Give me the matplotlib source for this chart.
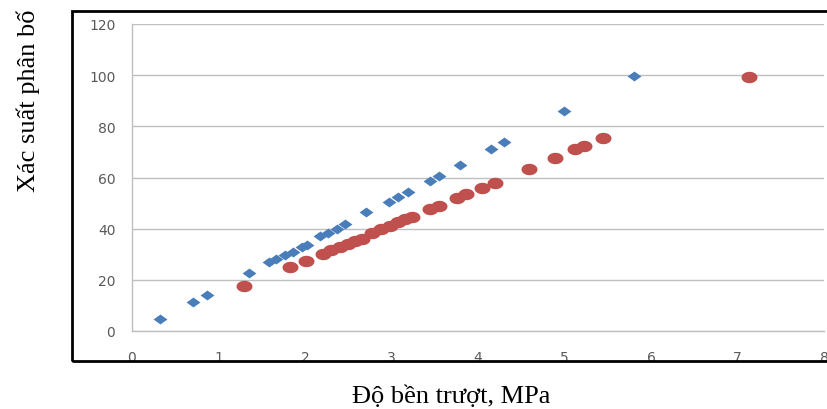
import matplotlib
matplotlib.use("Agg")
from matplotlib import pyplot as plt, patches
from matplotlib.path import Path
import numpy as np

# Data
blue_x = [0.32, 0.70, 0.87, 1.35, 1.58, 1.67, 1.77, 1.86, 1.96, 2.02, 2.17, 2.27,
          2.37, 2.46, 2.71, 2.97, 3.07, 3.19, 3.45, 3.55, 3.79, 4.15, 4.30, 4.99, 5.80]
blue_y = [4.7, 11.5, 14.2, 22.5, 26.8, 28.1, 29.7, 31.0, 32.7, 33.6, 37.0, 38.3,
          39.8, 41.8, 46.4, 50.4, 52.4, 54.4, 58.8, 60.7, 64.8, 71.1, 73.7, 85.8, 99.5]

red_x = [1.30, 1.83, 2.01, 2.21, 2.30, 2.40, 2.50, 2.58, 2.66, 2.78, 2.88, 2.98,
         3.08, 3.16, 3.24, 3.45, 3.55, 3.76, 3.86, 4.05, 4.20, 4.59, 4.89, 5.12,
         5.22, 5.44, 7.13]
red_y = [17.5, 25.0, 27.5, 30.0, 31.5, 32.7, 34.0, 35.0, 36.0, 38.3, 39.7, 41.0,
         42.5, 43.6, 44.6, 47.5, 49.0, 52.0, 53.5, 56.0, 58.0, 63.5, 67.8, 71.0,
         72.3, 75.5, 99.3]

x_ticks = [0, 1, 2, 3, 4, 5, 6, 7, 8]
y_ticks = [0, 20, 40, 60, 80, 100, 120]

x_label = "Độ bền trượt, MPa"
y_label = "Xác suất phân bố"

# Wide markers (the reference image is stretched horizontally)
stretch = 1.4
t = np.linspace(0, 2 * np.pi, 60)
ellipse = Path(np.column_stack([stretch * np.cos(t), np.sin(t)]), closed=True)
diamond = Path([(0, 1), (stretch, 0), (0, -1), (-stretch, 0), (0, 1)], closed=True)

fig = plt.figure(figsize=(8.28, 4.10), dpi=100)
ax = fig.add_axes([132 / 828, 78 / 410, 692 / 828, 307 / 410])

ax.plot(blue_x, blue_y, linestyle="none", marker=diamond, markersize=10,
        color="#4A7EBB", markeredgewidth=0, zorder=3)
ax.plot(red_x, red_y, linestyle="none", marker=ellipse, markersize=11.5,
        color="#C0504D", markeredgewidth=0, zorder=3)

ax.set_xlim(0, 8)
ax.set_ylim(0, 120)
ax.set_xticks(x_ticks)
ax.set_yticks(y_ticks)
ax.yaxis.grid(True, color="#BFBFBF", linewidth=1.0)
ax.set_axisbelow(True)

for side in ["top", "right"]:
    ax.spines[side].set_visible(False)
for side in ["left", "bottom"]:
    ax.spines[side].set_color("#BFBFBF")
    ax.spines[side].set_linewidth(1.0)

ax.tick_params(length=0, labelsize=10, labelcolor="#595959")
ax.tick_params(axis="x", pad=14)
ax.tick_params(axis="y", pad=12)
for lab in ax.get_xticklabels() + ax.get_yticklabels():
    lab.set_fontfamily("DejaVu Sans")

# Outer black frame around the chart area (right side cut off in reference)
frame = patches.Rectangle((72 / 828, 48 / 410), 1.0, 350 / 410,
                          transform=fig.transFigure, fill=False,
                          edgecolor="black", linewidth=2, clip_on=False)
fig.patches.append(frame)

fig.text(28 / 828, 1 - 101 / 410, y_label, rotation=90, ha="center", va="center",
         fontsize=19, family="Liberation Serif")
fig.text(451 / 828, 1 - 397 / 410, x_label, ha="center", va="center",
         fontsize=19, family="Liberation Serif")

fig.savefig("out.png", dpi=100)
